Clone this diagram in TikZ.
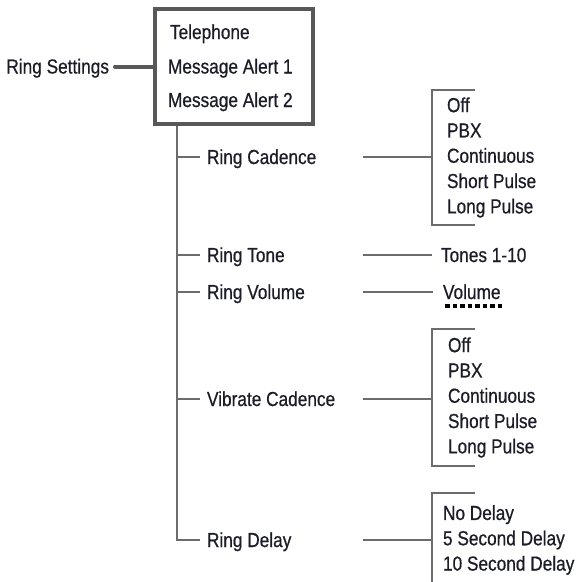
\documentclass[tikz,border=0pt]{standalone}
\usepackage{fontspec}
\setmainfont{Liberation Sans}[FakeStretch=0.85, FakeBold=0.6]
\definecolor{ink}{RGB}{28,28,40}
\definecolor{wiregray}{RGB}{108,108,108}
\definecolor{framegray}{RGB}{88,88,88}

\begin{document}
\begin{tikzpicture}[x=1pt, y=-1pt,
    txt/.style={text=ink, anchor=west, inner sep=0pt, inner xsep=7pt, outer sep=0pt,
        text height=14pt, text depth=0pt, font=\fontsize{20.3}{25.3}\selectfont},
    choices/.style={text=ink, anchor=west, align=left, inner sep=0pt, outer sep=0pt,
        font=\fontsize{20.3}{25.3}\selectfont},
    wire/.style={draw=wiregray, line width=2.4pt},
    heavy/.style={draw=framegray, line width=4pt},
    dotline/.style={draw=black, line width=4pt, dash pattern=on 4.5pt off 3pt}]

    % Khung hình
    \path[use as bounding box] (0,0) rectangle (579,582);
    \clip (0,0) rectangle (579,582);

    % Hộp menu chính
    \node[heavy, minimum width=158pt, minimum height=115pt, inner sep=0pt] (menu) at (234,66.5) {};
    \node[txt] (phone) at (163,32) {Telephone};
    \node[txt] (alert1) at (161,66.5) {Message Alert 1};
    \node[txt] (alert2) at (161,100) {Message Alert 2};

    \node[txt, anchor=east, inner xsep=6pt] (settings) at (115,66.5) {Ring Settings};
    \draw[heavy, line cap=round] (settings.east) -- (menu.west);

    % Các mục con
    \node[txt] (cadence) at (200,157) {Ring Cadence};
    \node[txt] (tone) at (200,255) {Ring Tone};
    \node[txt] (volume) at (200,292) {Ring Volume};
    \node[txt] (vibrate) at (200,399) {Vibrate Cadence};
    \node[txt] (delay) at (200,540) {Ring Delay};

    % Trục dọc
    \coordinate (trunk) at ([xshift=24pt]menu.south west);
    \draw[wire] (trunk) |- (delay.west);
    \foreach \n in {cadence, tone, volume, vibrate}
        \draw[wire] (\n.west -| trunk) -- (\n.west);

    % Các lựa chọn
    \node[choices, inner xsep=15pt, minimum height=135pt] (cadlist) at (432,157.5)
        {Off\\PBX\\Continuous\\Short Pulse\\Long Pulse};
    \node[txt, inner xsep=9pt] (tones) at (432,255) {Tones 1-10};
    \node[txt, inner xsep=10pt] (level) at (433,292) {Volume};
    \node[choices, inner xsep=16pt, minimum height=137pt] (viblist) at (432,397.5)
        {Off\\PBX\\Continuous\\Short Pulse\\Long Pulse};
    \node[choices, inner xsep=11pt, minimum height=94pt] (delaylist) at (432,540)
        {No Delay\\5 Second Delay\\10 Second Delay};

    % Đường nối sang phải
    \coordinate (gap) at (363,0);
    \draw[wire] (cadence -| gap) -- (cadence -| cadlist.west);
    \draw[wire] (tone -| gap) -- (tones.west);
    \draw[wire] (volume -| gap) -- (level.west);
    \draw[wire] (vibrate -| gap) -- (vibrate -| viblist.west);
    \draw[wire] (delay -| gap) -- (delay -| delaylist.west);

    % Ngoặc
    \foreach \l in {cadlist, viblist, delaylist}
        \draw[wire] ([xshift=43pt]\l.north west) -- (\l.north west)
            -- (\l.south west) -- ++(43,0);

    % Gạch dưới Volume
    \draw[dotline] ([xshift=12pt, yshift=-7pt]level.base west) -- ++(57,0);

\end{tikzpicture}
\end{document}
